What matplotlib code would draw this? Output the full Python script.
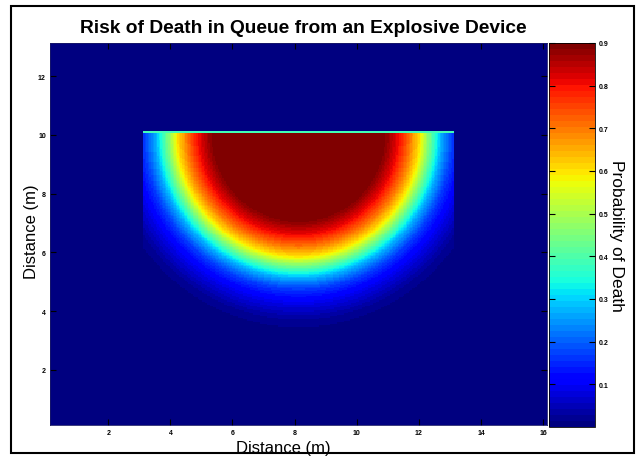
"""
Risk of death in a queue from an explosive device: heat map of the
probability of death with a jet colour bar.
"""

import numpy as np
import matplotlib
matplotlib.use("Agg")
import matplotlib.pyplot as plt
from matplotlib.patches import Rectangle

plt.rcParams["font.family"] = ["Liberation Sans", "DejaVu Sans"]

# queue area and blast position (m)
queue_x = [3.125, 13.125]
queue_top = 10.125
blast_x = 8.125
blast_y = 10.0
depth_stretch = 1.06  # the lethal zone reaches a bit further back than sideways

# probability of death vs distance from the blast
profile_r = [0.0, 2.6, 2.9, 3.25, 3.6, 3.9, 4.1, 4.35, 4.6, 4.95, 5.4, 5.9, 6.4]
profile_p = [0.95, 0.92, 0.87, 0.8, 0.7, 0.6, 0.5, 0.38, 0.27, 0.17, 0.09, 0.03, 0.0]
edge_value = 0.38  # thin light line along the front of the queue

x_ticks = [2, 4, 6, 8, 10, 12, 14, 16]
y_ticks = [2, 4, 6, 8, 10, 12]
cbar_ticks = [0.1, 0.2, 0.3, 0.4, 0.5, 0.6, 0.7, 0.8, 0.9]
x_limits = [0.125, 16.125]
y_limits = [0.125, 13.125]
step = 0.05


def build_field():
    xe = np.arange(x_limits[0], x_limits[1] + step / 2, step)
    ye = np.arange(y_limits[0], y_limits[1] + step / 2, step)
    xc = (xe[:-1] + xe[1:]) / 2
    yc = (ye[:-1] + ye[1:]) / 2
    X, Y = np.meshgrid(xc, yc)
    r = np.hypot(X - blast_x, (Y - blast_y) / depth_stretch)
    p = np.interp(r, profile_r, profile_p)
    inside = (X >= queue_x[0]) & (X <= queue_x[1]) & (Y <= queue_top)
    p = np.where(inside, p, 0.0)
    top_row = inside & (Y > queue_top - step)
    p[top_row] = edge_value
    return xe, ye, p


def main():
    xe, ye, p = build_field()

    fig = plt.figure(figsize=(6.41, 4.60), dpi=100)
    ax = fig.add_axes([50 / 641, 34 / 460, 497 / 641, 382 / 460])
    cax = fig.add_axes([549 / 641, 32 / 460, 46 / 641, 384 / 460])

    cmap = plt.get_cmap("jet", 64)
    mesh = ax.pcolormesh(xe, ye, p, cmap=cmap, vmin=0, vmax=0.9,
                         shading="flat", rasterized=True)
    ax.set_xlim(x_limits)
    ax.set_ylim(y_limits)
    ax.set_xticks(x_ticks)
    ax.set_yticks(y_ticks)
    ax.tick_params(direction="in", length=4, width=0.8, top=True, right=True,
                   labelsize=5, pad=3)
    for lab in ax.get_xticklabels() + ax.get_yticklabels():
        lab.set_fontweight("bold")
    for s in ax.spines.values():
        s.set_linewidth(0.6)
        s.set_color("#1a1a66")

    ax.set_title("Risk of Death in Queue from an Explosive Device",
                 fontsize=13.8, fontweight="bold", pad=8, x=0.51)
    ax.set_xlabel("Distance (m)", fontsize=12)
    ax.xaxis.set_label_coords(0.469, -0.04)
    ax.set_ylabel("Distance (m)", fontsize=12)
    ax.yaxis.set_label_coords(-0.022, 0.508)

    cb = fig.colorbar(mesh, cax=cax, ticks=cbar_ticks)
    cb.outline.set_linewidth(0.6)
    cax.tick_params(direction="in", length=4, width=0.8, left=True, right=True,
                    labelsize=5, pad=3)
    for lab in cax.get_yticklabels():
        lab.set_fontweight("bold")
    cb.set_label("Probability of Death", fontsize=12.5, rotation=-90, labelpad=11)

    # black frame around the whole picture
    fig.patches.append(Rectangle((11 / 641, 6 / 460), 623 / 641, 447 / 460,
                                 transform=fig.transFigure, fill=False,
                                 edgecolor="black", linewidth=1.5))

    fig.savefig("out.png", dpi=100)
    plt.close(fig)


if __name__ == "__main__":
    main()
